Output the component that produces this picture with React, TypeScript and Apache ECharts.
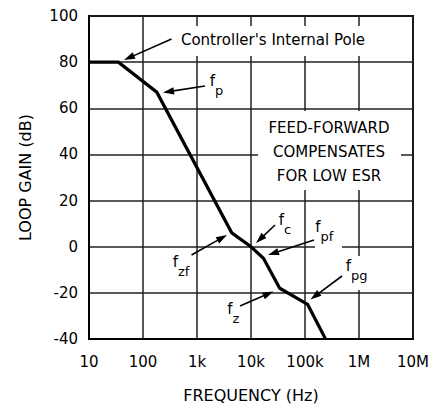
import React, { useEffect, useRef } from "react";
import * as echarts from "echarts";

const frequencies = [10, 35, 180, 4400, 10000, 17000, 34000, 112000, 240000];
const gainDb = [80, 80, 67, 6, 0, -5, -18, -25, -40];
const xTickLabels: Record<string, string> = {
  "10": "10",
  "100": "100",
  "1000": "1k",
  "10000": "10k",
  "100000": "100k",
  "1000000": "1M",
  "10000000": "10M",
};
const FONT = "DejaVu Sans";

type Arrow = { from: [number, number]; to: [number, number] };
const arrows: Arrow[] = [
  { from: [171.5, 39], to: [124, 60] },
  { from: [205, 86], to: [163, 92.5] },
  { from: [191.5, 255], to: [227, 235] },
  { from: [275, 225], to: [256, 243] },
  { from: [314, 240], to: [268, 255] },
  { from: [240, 306], to: [273.5, 291.5] },
  { from: [342, 276], to: [310.5, 299.5] },
];

type FLabel = { x: number; y: number; sub: string };
const fLabels: FLabel[] = [
  { x: 212.5, y: 81, sub: "p" },
  { x: 175.5, y: 262, sub: "zf" },
  { x: 281.5, y: 220, sub: "c" },
  { x: 318, y: 227, sub: "pf" },
  { x: 230, y: 309, sub: "z" },
  { x: 348.5, y: 266, sub: "pg" },
];

const whiteBoxes = [
  { x: 176, y: 26, w: 196, h: 30 },
  { x: 258, y: 111, w: 143, h: 79 },
  { x: 315, y: 216, w: 27, h: 34 },
  { x: 343, y: 256, w: 28, h: 34 },
];

function arrowElements(a: Arrow) {
  const [x1, y1] = a.from;
  const [x2, y2] = a.to;
  const dx = x2 - x1;
  const dy = y2 - y1;
  const len = Math.sqrt(dx * dx + dy * dy);
  const ux = dx / len;
  const uy = dy / len;
  const hl = 11;
  const hw = 3.6;
  const bx = x2 - ux * hl;
  const by = y2 - uy * hl;
  return [
    {
      type: "line",
      z: 110,
      shape: { x1, y1, x2: bx + ux * 2, y2: by + uy * 2 },
      style: { stroke: "#000", lineWidth: 1.6 },
    },
    {
      type: "polygon",
      z: 110,
      shape: {
        points: [
          [x2, y2],
          [bx - uy * hw, by + ux * hw],
          [bx + uy * hw, by - ux * hw],
        ],
      },
      style: { fill: "#000" },
    },
  ];
}

export default function App() {
  const ref = useRef<HTMLDivElement>(null);
  useEffect(() => {
    document.body.style.margin = "0";
    if (!ref.current) return;
    const chart = echarts.init(ref.current, undefined, { renderer: "svg" });
    const data = frequencies.map((f, i) => [f, gainDb[i]]);
    const graphics: any[] = [];
    whiteBoxes.forEach((b) =>
      graphics.push({
        type: "rect",
        z: 100,
        shape: { x: b.x, y: b.y, width: b.w, height: b.h },
        style: { fill: "#fff" },
      })
    );
    graphics.push({
      type: "text",
      z: 120,
      x: 273,
      y: 40,
      style: {
        text: "Controller's Internal Pole",
        font: `15px "${FONT}"`,
        fill: "#000",
        textAlign: "center",
        textVerticalAlign: "middle",
      },
    });
    graphics.push({
      type: "text",
      z: 120,
      x: 329,
      y: 152,
      style: {
        text: "FEED-FORWARD\nCOMPENSATES\nFOR LOW ESR",
        font: `15px "${FONT}"`,
        lineHeight: 24,
        fill: "#000",
        textAlign: "center",
        textVerticalAlign: "middle",
      },
    });
    fLabels.forEach((l) => {
      graphics.push({
        type: "text",
        z: 120,
        x: l.x,
        y: l.y,
        style: {
          text: "f",
          font: `15px "${FONT}"`,
          fill: "#000",
          textAlign: "center",
          textVerticalAlign: "middle",
        },
      });
      graphics.push({
        type: "text",
        z: 120,
        x: l.x + 2.5,
        y: l.y + 9.5,
        style: {
          text: l.sub,
          font: `13px "${FONT}"`,
          fill: "#000",
          textAlign: "left",
          textVerticalAlign: "middle",
        },
      });
    });
    arrows.forEach((a) => graphics.push(...arrowElements(a)));

    chart.setOption({
      animation: false,
      backgroundColor: "#fff",
      grid: {
        left: 89,
        top: 16,
        width: 324,
        height: 323.5,
        show: true,
        borderColor: "#000",
        borderWidth: 2,
      },
      xAxis: {
        type: "log",
        logBase: 10,
        min: 10,
        max: 10000000,
        name: "FREQUENCY (Hz)",
        nameLocation: "middle",
        nameGap: 48,
        nameTextStyle: { fontFamily: FONT, fontSize: 16, color: "#000" },
        axisLine: { show: true, onZero: false, lineStyle: { color: "#000", width: 2 } },
        axisTick: { show: false },
        minorTick: { show: false },
        splitLine: { show: true, lineStyle: { color: "#222", width: 1.5 } },
        axisLabel: {
          margin: 15,
          fontFamily: FONT,
          fontSize: 15,
          color: "#000",
          formatter: (v: number) => xTickLabels[String(Math.round(v))] ?? "",
        },
      },
      yAxis: {
        type: "value",
        min: -40,
        max: 100,
        interval: 20,
        name: "LOOP GAIN (dB)",
        nameLocation: "middle",
        nameGap: 56,
        nameTextStyle: { fontFamily: FONT, fontSize: 16, color: "#000" },
        axisLine: { show: true, onZero: false, lineStyle: { color: "#000", width: 2 } },
        axisTick: { show: false },
        splitLine: { show: true, lineStyle: { color: "#222", width: 1.5 } },
        axisLabel: {
          margin: 11,
          fontFamily: FONT,
          fontSize: 15,
          color: "#000",
        },
      },
      series: [
        {
          type: "line",
          data,
          showSymbol: false,
          symbol: "none",
          z: 5,
          lineStyle: { color: "#000", width: 3.2, join: "miter" },
        },
      ],
      graphic: { elements: graphics },
    });
    return () => chart.dispose();
  }, []);
  return <div ref={ref} style={{ width: 433, height: 408 }} />;
}
